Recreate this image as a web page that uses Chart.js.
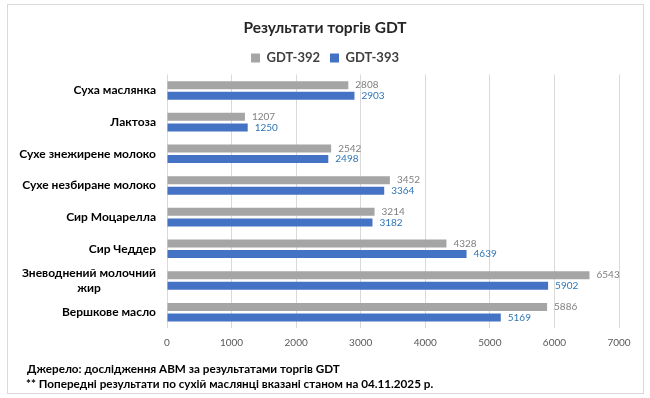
<!DOCTYPE html>
<html>
<head>
<meta charset="utf-8">
<script src="https://cdn.jsdelivr.net/npm/chart.js@4/dist/chart.umd.min.js"></script>
<style>
  body { margin: 0; background: #fff; }
  .wrap { position: relative; width: 650px; height: 398px; }
  .frame { position: absolute; left: 7px; top: 4px; width: 635px; height: 388px; border: 1px solid #d9d9d9; pointer-events: none; }
  .note { position: absolute; left: 27px; font: bold 11.7px Lato, sans-serif; color: #000; white-space: nowrap; }
</style>
</head>
<body>
<div class="wrap">
  <canvas id="gdt" width="650" height="398"></canvas>
  <div class="frame"></div>
  <div class="note" style="top: 361px;">Джерело: дослідження АВМ за результатами торгів GDT</div>
  <div class="note" style="top: 376px; left: 26px;">** Попередні результати по сухій маслянці вказані станом на 04.11.2025 р.</div>
</div>
<script>
let products = [
  'Суха маслянка',
  'Лактоза',
  'Сухе знежирене молоко',
  'Сухе незбиране молоко',
  'Сир Моцарелла',
  'Сир Чеддер',
  ['Зневоднений молочний', 'жир'],
  'Вершкове масло',
];
let gdt392 = [2808, 1207, 2542, 3452, 3214, 4328, 6543, 5886];
let gdt393 = [2903, 1250, 2498, 3364, 3182, 4639, 5902, 5169];
let xTicks = [0, 1000, 2000, 3000, 4000, 5000, 6000, 7000];

let labelColors = ['#7f7f7f', '#2e75b6'];

// values next to each bar
const valueLabels = {
  id: 'valueLabels',
  afterDatasetsDraw(chart) {
    let ctx = chart.ctx;
    ctx.save();
    ctx.font = '10px Lato, sans-serif';
    ctx.textBaseline = 'middle';
    ctx.textAlign = 'left';
    chart.data.datasets.forEach((ds, i) => {
      let meta = chart.getDatasetMeta(i);
      ctx.fillStyle = labelColors[i];
      meta.data.forEach((bar, j) => {
        ctx.fillText(ds.data[j], bar.x + 7, bar.y);
      });
    });
    ctx.restore();
  },
};

// category names, multi-line ones centred on their widest line
const categoryLabels = {
  id: 'categoryLabels',
  afterDraw(chart) {
    let ctx = chart.ctx;
    let yScale = chart.scales.y;
    let right = chart.chartArea.left - 11;
    ctx.save();
    ctx.font = 'bold 12px Lato, sans-serif';
    ctx.fillStyle = '#000';
    ctx.textBaseline = 'middle';
    ctx.textAlign = 'center';
    chart.data.labels.forEach((label, i) => {
      let lines = Array.isArray(label) ? label : [label];
      let widest = Math.max(...lines.map((l) => ctx.measureText(l).width));
      let cx = right - widest / 2;
      let yc = yScale.getPixelForTick(i);
      let lh = 15;
      lines.forEach((l, k) => {
        ctx.fillText(l, cx, yc + (k - (lines.length - 1) / 2) * lh);
      });
    });
    ctx.restore();
  },
};

let ctx = document.getElementById('gdt').getContext('2d');
new Chart(ctx, {
  type: 'bar',
  data: {
    labels: products,
    datasets: [
      {
        label: 'GDT-392',
        data: gdt392,
        backgroundColor: '#a5a5a5',
        categoryPercentage: 0.665,
        barPercentage: 0.76,
      },
      {
        label: 'GDT-393',
        data: gdt393,
        backgroundColor: '#4472c4',
        categoryPercentage: 0.665,
        barPercentage: 0.76,
      },
    ],
  },
  options: {
    indexAxis: 'y',
    responsive: false,
    animation: false,
    layout: {
      padding: { left: 31, right: 31, top: 0, bottom: 40 },
    },
    plugins: {
      title: {
        display: true,
        text: 'Результати торгів GDT',
        color: '#262626',
        font: { family: 'Lato', size: 15.5, weight: 'bold' },
        padding: { top: 19, bottom: 4 },
      },
      legend: {
        display: true,
        position: 'top',
        labels: {
          boxWidth: 9,
          boxHeight: 9,
          color: '#404040',
          font: { family: 'Lato', size: 13, weight: 'bold' },
          padding: 10,
        },
      },
      tooltip: { enabled: false },
    },
    scales: {
      x: {
        min: 0,
        max: 7000,
        afterBuildTicks(scale) {
          scale.ticks = xTicks.map((v) => ({ value: v }));
        },
        grid: { color: '#d9d9d9', drawTicks: false },
        border: { display: false },
        ticks: {
          color: '#595959',
          font: { family: 'Lato', size: 10 },
          padding: 9,
          callback: (v) => String(v),
        },
      },
      y: {
        grid: { display: false },
        border: { display: false },
        ticks: { display: false },
        afterFit(scale) {
          scale.width = 136;
        },
      },
    },
  },
  plugins: [valueLabels, categoryLabels],
});
</script>
</body>
</html>
